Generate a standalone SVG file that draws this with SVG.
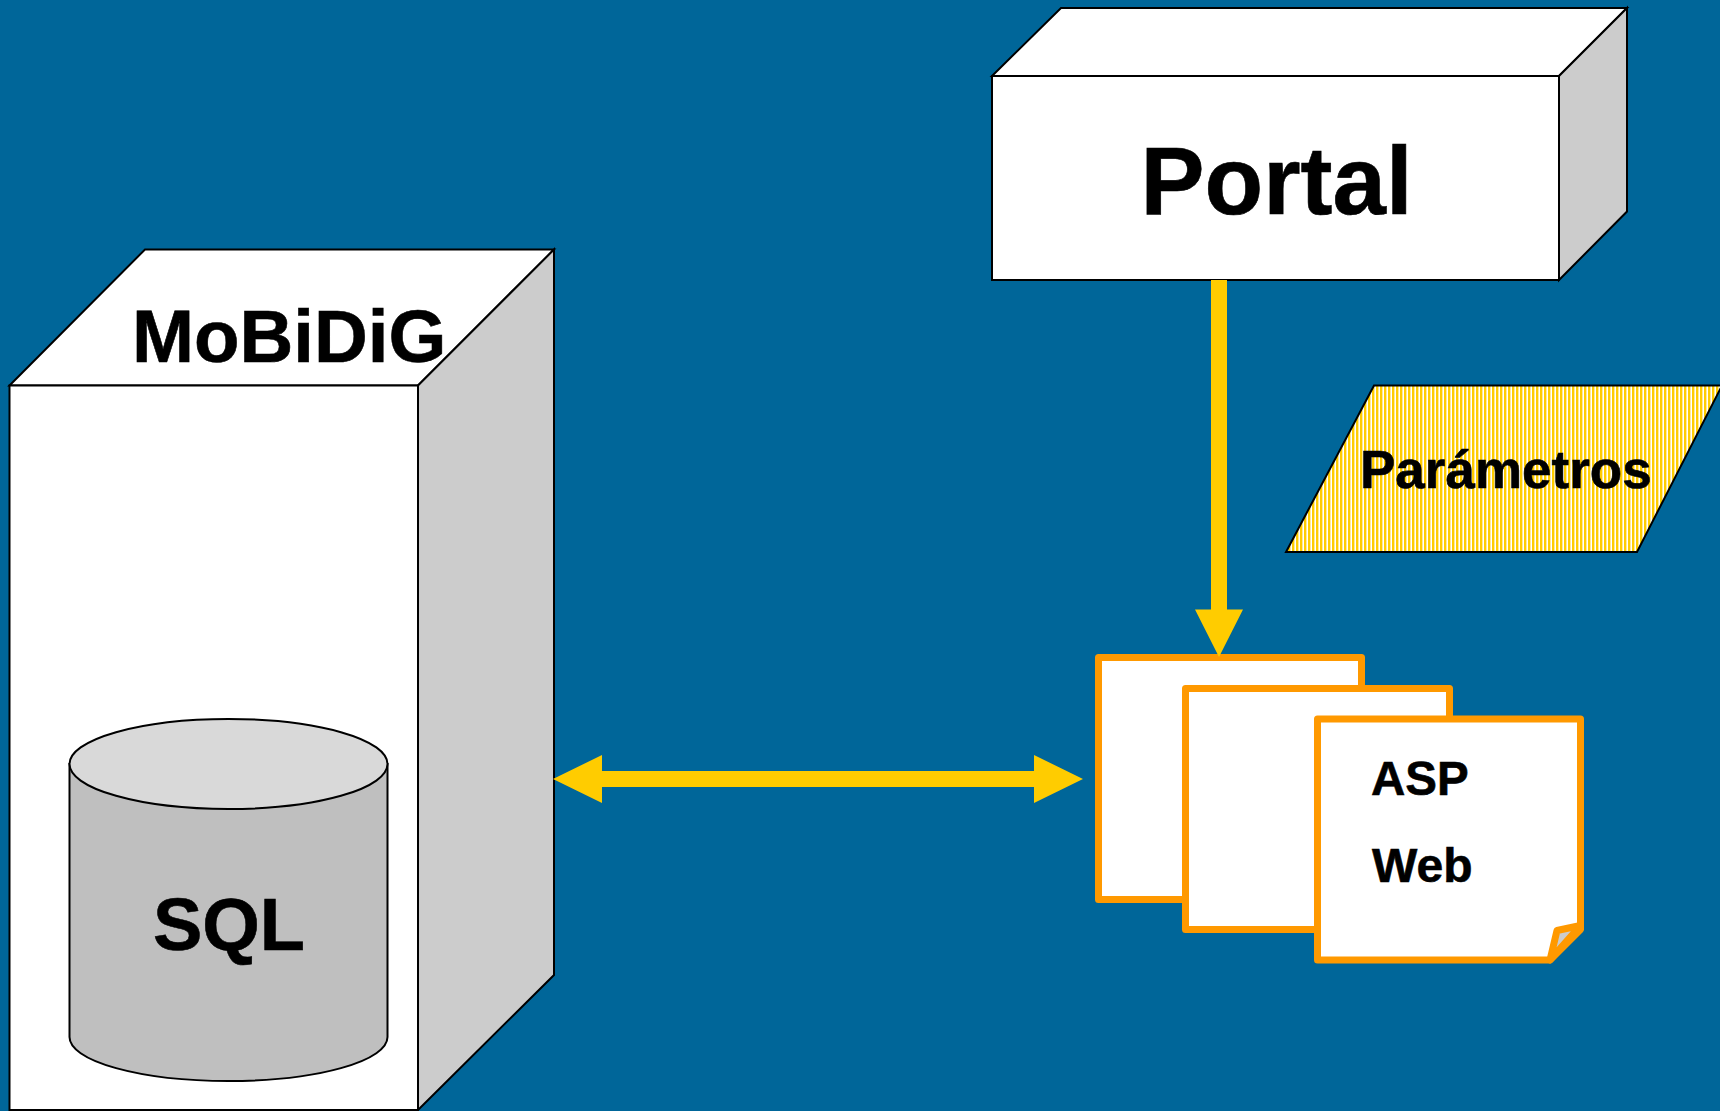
<svg xmlns="http://www.w3.org/2000/svg" width="1720" height="1111" viewBox="0 0 1720 1111">
<style>
text{font-family:"Liberation Sans",Arial,sans-serif;font-weight:bold;fill:#000;stroke:#000;stroke-width:.6}
.e{stroke:#000;stroke-width:2;stroke-linejoin:miter}
.w{fill:#fff}.g{fill:#ccc}
.doc{fill:#fff;stroke:#f90;stroke-width:7;stroke-linejoin:round}
.a{fill:#fc0}
</style>
<defs>
<pattern id="stripes" patternUnits="userSpaceOnUse" width="4" height="4"><rect width="4" height="4" fill="#fff"/><rect width="2.400" height="4" fill="#fc0"/></pattern>
</defs>
<rect width="1720" height="1111" fill="#069"/>
<g id="mobidig">
<polygon class="e w" points="9.500,385.500 145,249.500 554,249.500 418,385.500"/>
<polygon class="e g" points="418,385.500 554,249.500 554,975 418,1110"/>
<rect class="e w" x="9.500" y="385.500" width="408.500" height="724.500"/>
<text x="132" y="362" font-size="74.500">MoBiDiG</text>
</g>
<g id="sql">
<path class="e" fill="#bfbfbf" d="M69.500 764V1037A159 44 0 0 0 387.500 1037V764Z"/>
<ellipse class="e" fill="#d9d9d9" cx="228.500" cy="764" rx="159" ry="45"/>
<text x="229" y="950" font-size="74" text-anchor="middle">SQL</text>
</g>
<g id="portal">
<polygon class="e w" points="992,76 1061,8 1627,8 1559,76"/>
<polygon class="e g" points="1559,76 1627,8 1627,211.500 1559,280"/>
<rect class="e w" x="992" y="76" width="567" height="204"/>
<text x="1140.500" y="214" font-size="96">Portal</text>
</g>
<g id="parametros">
<polygon points="1374,385.500 1722,385.500 1637,552 1286,552" fill="url(#stripes)" stroke="#000" stroke-width="2"/>
<text x="1360" y="488" font-size="53">Parámetros</text>
</g>
<g id="doc1"><rect class="doc" x="1098.500" y="657.500" width="263" height="242"/></g>
<g id="doc2"><rect class="doc" x="1185.500" y="688.500" width="264" height="241"/></g>
<g id="doc3">
<path class="doc" d="M1317.500 719H1580.500V929.500L1550 960H1317.500Z"/>
<path d="M1550 960L1557 930.500L1580.500 925.500L1550 960Z" fill="#ccc" stroke="#f90" stroke-width="7" stroke-linejoin="round"/>
<text x="1371" y="795" font-size="47.500">ASP</text>
<text x="1372" y="882" font-size="48">Web</text>
</g>
<g id="connectors">
<path class="a" d="M1211 280H1227V609.500H1243L1219 657L1195 609.500H1211Z"/>
<path class="a" d="M553 779L602 755V771H1034V755L1083 779L1034 803V787H602V803Z"/>
</g>
</svg>
